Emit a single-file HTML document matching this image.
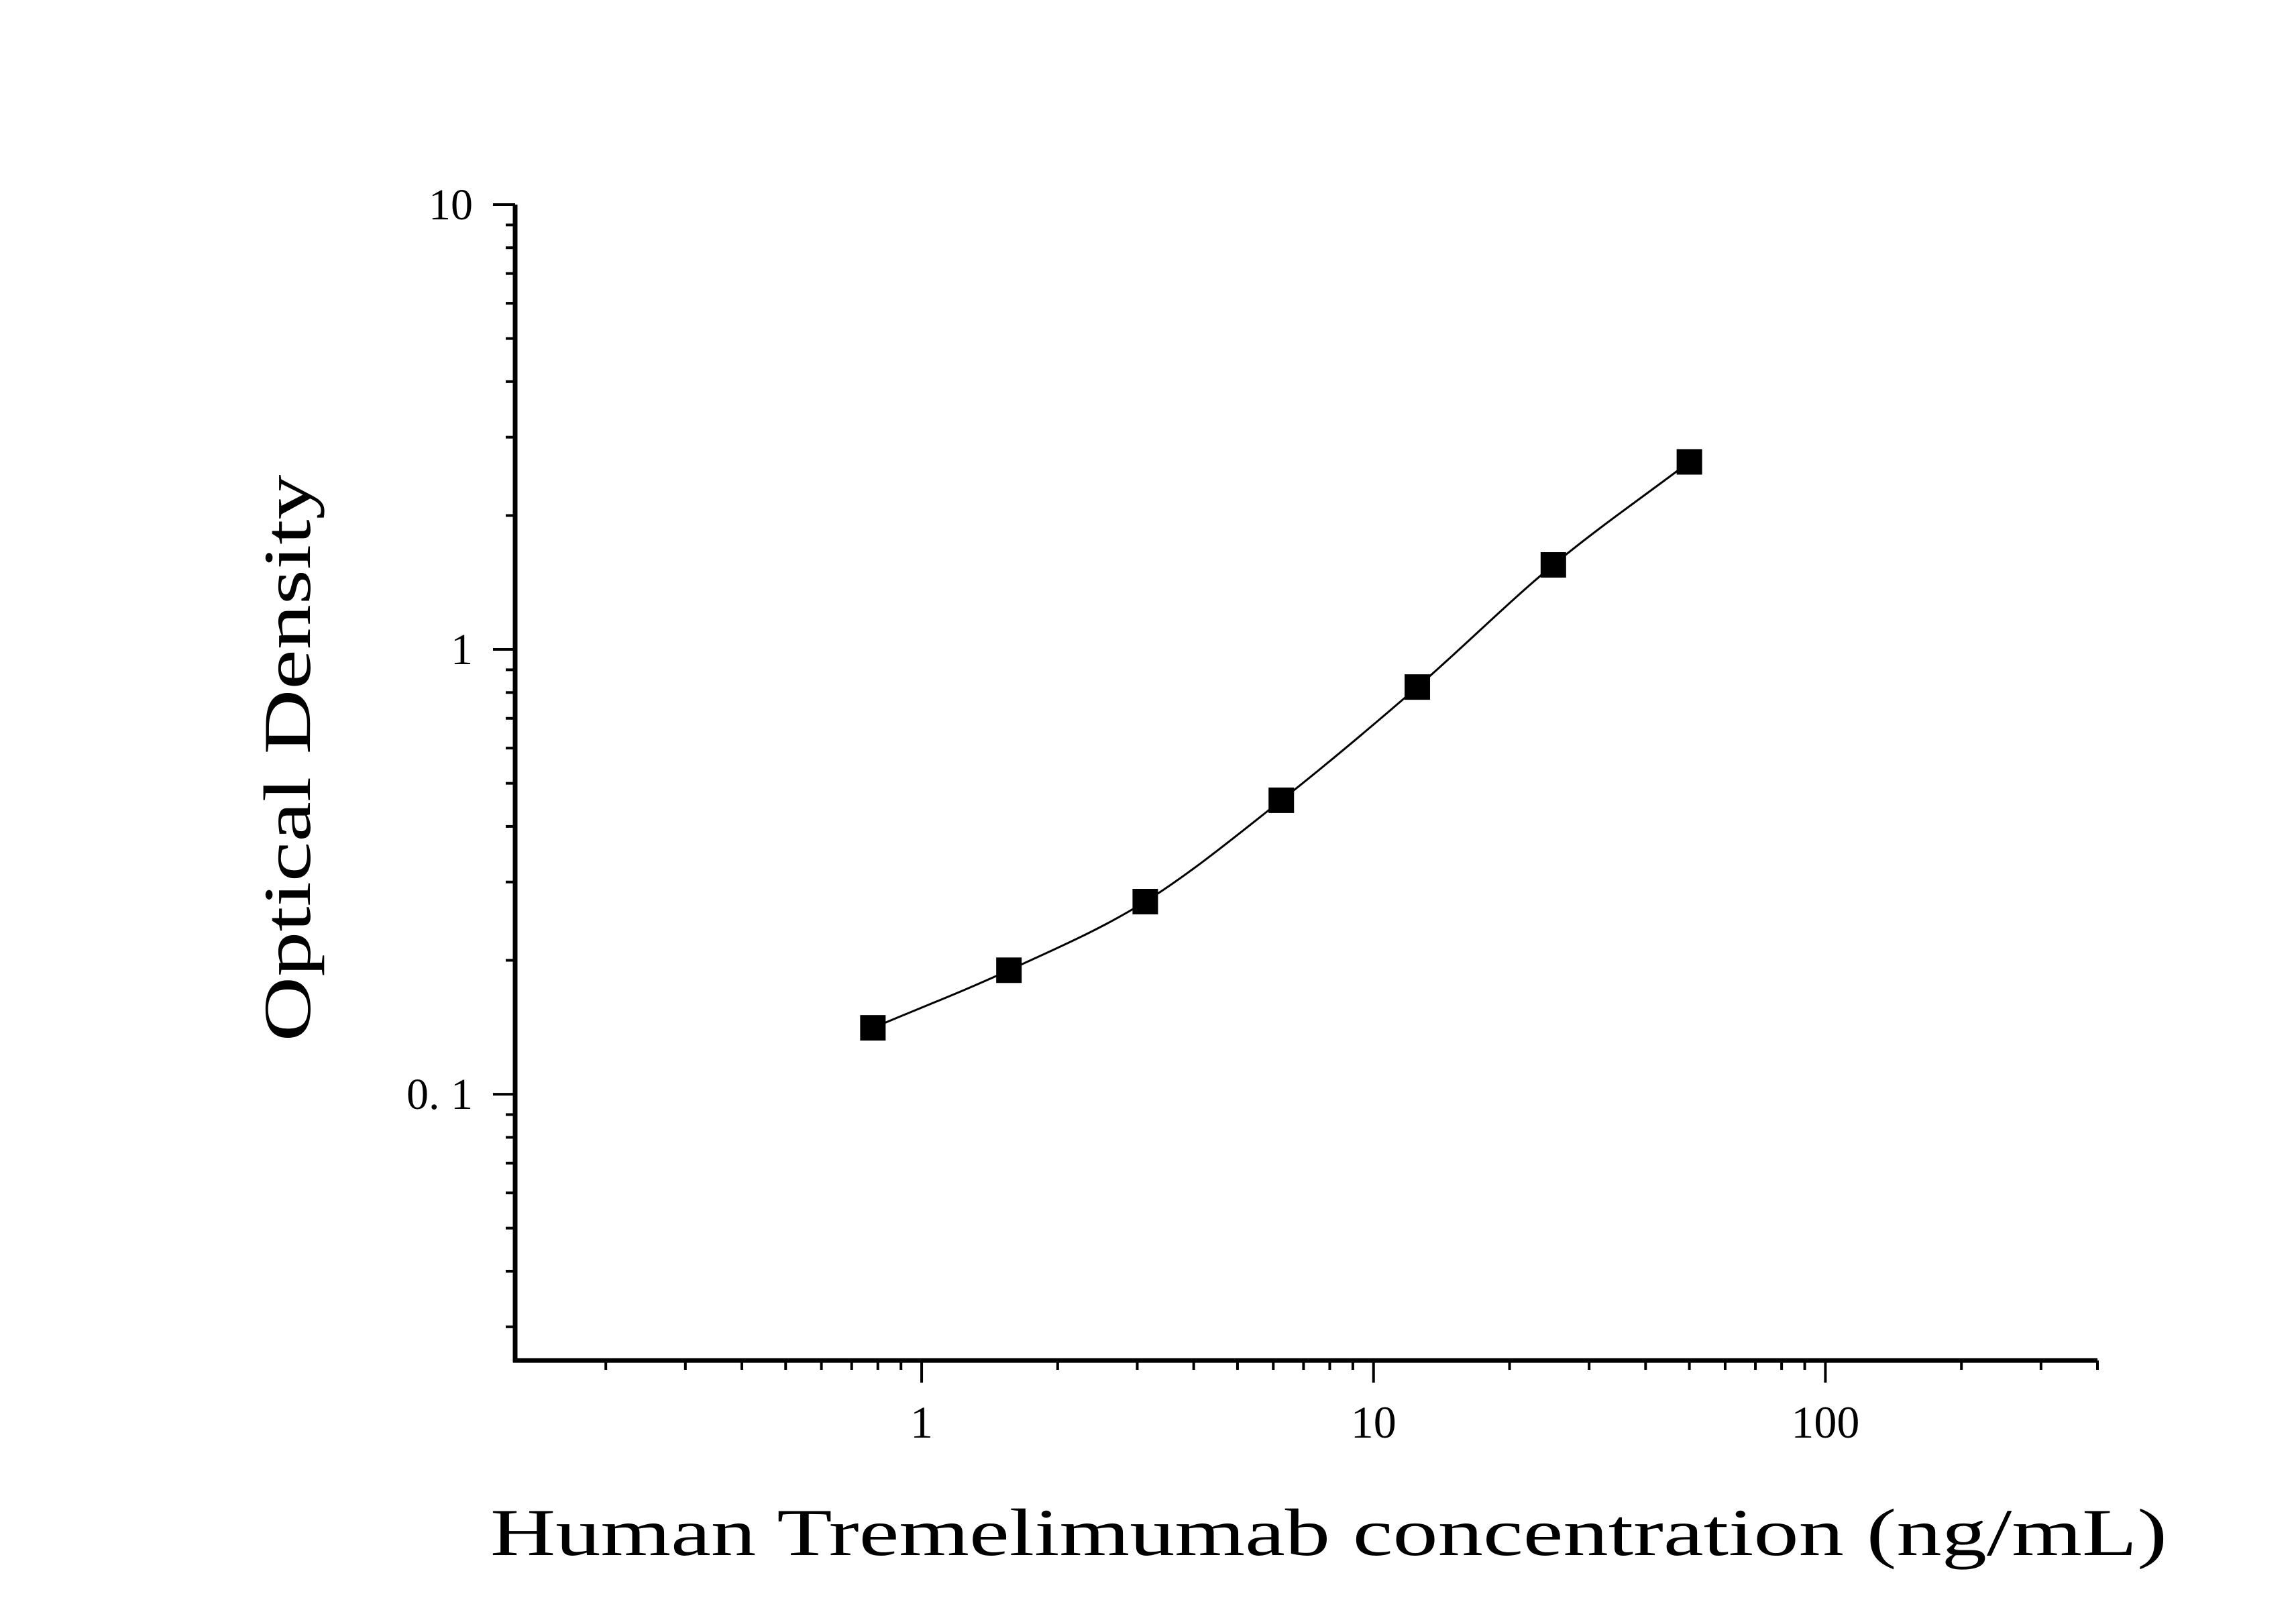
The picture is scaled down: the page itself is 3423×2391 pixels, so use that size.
<!DOCTYPE html>
<html><head><meta charset="utf-8"><style>
html,body{margin:0;padding:0;background:#fff;}
svg{display:block;font-family:"Liberation Serif",serif;}
</style></head><body>
<svg id="chart" width="3423" height="2391" viewBox="0 0 3423 2391" xmlns="http://www.w3.org/2000/svg">
<rect width="3423" height="2391" fill="#fff"/>
<g id="axes"></g>
<g id="curve"></g>
<g id="points"></g>
<text transform="translate(462,1130) rotate(-90)" text-anchor="middle" font-size="100" textLength="845" lengthAdjust="spacingAndGlyphs">Optical Density</text>
<text x="1981" y="2318" text-anchor="middle" font-size="100" textLength="2500" lengthAdjust="spacingAndGlyphs">Human Tremelimumab concentration (ng/mL)</text>
</svg>
<script>
const concentrations = [0.78, 1.56, 3.125, 6.25, 12.5, 25, 50];
const odValues = [0.141, 0.190, 0.271, 0.458, 0.823, 1.549, 2.64];
const xTickValues = [1, 10, 100];
const xTickLabels = ["1", "10", "100"];
const yTickValues = [0.1, 1, 10];
const yTickLabels = ["0. 1", "1", "10"];

const NS = "http://www.w3.org/2000/svg";
const X0 = 768, X1 = 3127, XMIN = Math.log10(0.126), XMAX = Math.log10(400);
const Y0 = 2028, Y1 = 305, YMIN = Math.log10(0.0252), YMAX = 1;
function xs(v){ return X0 + (Math.log10(v) - XMIN) / (XMAX - XMIN) * (X1 - X0); }
function ys(v){ return Y0 - (Math.log10(v) - YMIN) / (YMAX - YMIN) * (Y0 - Y1); }
function mk(tag, attrs, parent){ const e = document.createElementNS(NS, tag); for (const k in attrs) e.setAttribute(k, attrs[k]); parent.appendChild(e); return e; }

const axes = document.getElementById("axes");
let yl = mk("line", {x1:X0, y1:Y1, x2:X0, y2:Y0+3, stroke:"#000", "stroke-width":7}, axes);


let xl = mk("line", {x1:X0-3, y1:Y0, x2:X1, y2:Y0, stroke:"#000", "stroke-width":7}, axes);



// y ticks
for (let d = -2; d <= 0; d++) {
  for (let m = 1; m <= 9; m++) {
    const v = m * Math.pow(10, d);
    if (v < 0.0252 || v > 10) continue;
    const y = ys(v);
    const t = mk("line", {x1:X0 - (m===1?33:14), y1:y, x2:X0, y2:y, stroke:"#000", "stroke-width":4}, axes);
    
    
  }
}
let yt = mk("line", {x1:X0-33, y1:ys(10), x2:X0, y2:ys(10), stroke:"#000", "stroke-width":4}, axes);


yTickValues.forEach((v, i) => {
  const t = mk("text", {x:705, y:ys(v)+22, "text-anchor":"end", "font-size":66}, axes);
  t.textContent = yTickLabels[i];
  
  
});
// x ticks
for (let d = -1; d <= 2; d++) {
  for (let m = 1; m <= 9; m++) {
    const v = m * Math.pow(10, d);
    if (v < 0.13 || v > 401) continue;
    const x = xs(v);
    const t = mk("line", {x1:x, y1:Y0, x2:x, y2:Y0 + (m===1?33:14), stroke:"#000", "stroke-width":4}, axes);
    
    
  }
}
xTickValues.forEach((v, i) => {
  const t = mk("text", {x:xs(v), y:2143, "text-anchor":"middle", "font-size":68}, axes);
  t.textContent = xTickLabels[i];
  
  
});

// curve: monotone cubic in pixel space through points
const px = concentrations.map(xs), py = odValues.map(ys);
let dpath = "M" + px[0] + "," + py[0];
const n = px.length;
const slope = [];
for (let i = 0; i < n; i++) {
  const a = Math.max(0, i-1), b = Math.min(n-1, i+1);
  slope.push((py[b]-py[a])/(px[b]-px[a]));
}
for (let i = 0; i < n-1; i++) {
  const h = px[i+1]-px[i];
  dpath += " C" + (px[i]+h/3) + "," + (py[i]+slope[i]*h/3) + " " + (px[i+1]-h/3) + "," + (py[i+1]-slope[i+1]*h/3) + " " + px[i+1] + "," + py[i+1];
}
const cp = mk("path", {d:dpath, fill:"none", stroke:"#000", "stroke-width":3}, document.getElementById("curve"));



const pts = document.getElementById("points");
concentrations.forEach((c, i) => {
  const r = mk("rect", {x:xs(c)-19, y:ys(odValues[i])-19, width:38, height:38, fill:"#000"}, pts);
  
  
});
</script>
</body></html>
